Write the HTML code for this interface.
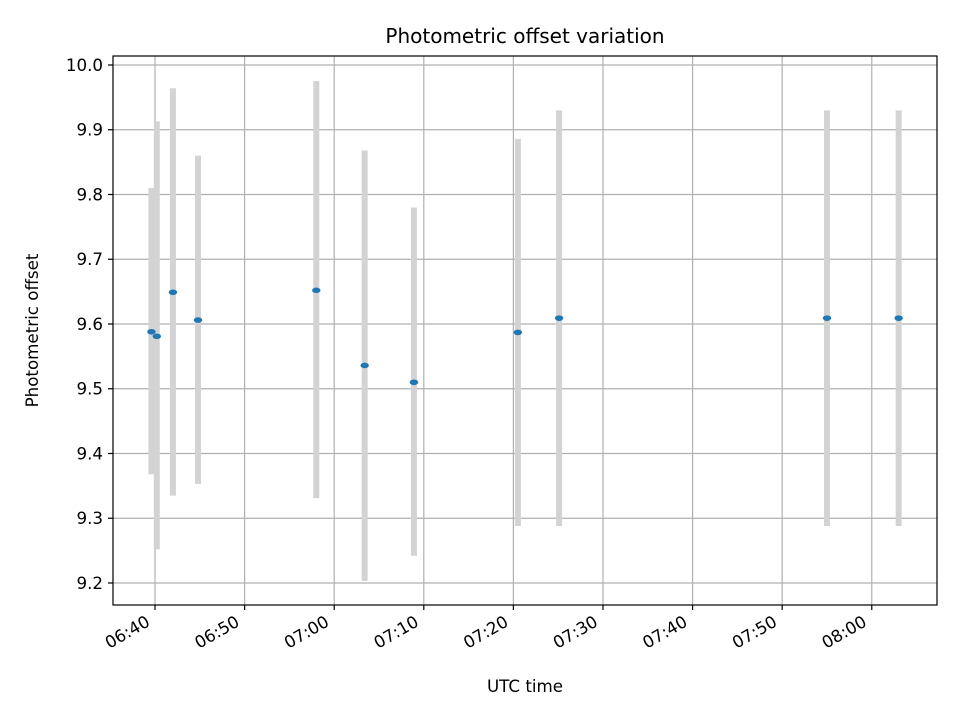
<!DOCTYPE html>
<html><head><meta charset="utf-8"><style>
body{margin:0;background:#fff;}
svg text{font-family:"DejaVu Sans","Liberation Sans",sans-serif;fill:#000;}
</style></head><body>
<svg id="chart" width="960" height="720" xmlns="http://www.w3.org/2000/svg"></svg>
<script>
const times = ["06:39:36","06:40:12","06:42:00","06:44:48","06:58:00","07:03:24","07:08:54","07:20:30","07:25:06","07:55:00","08:03:00"];
const offsets = [9.588,9.581,9.649,9.606,9.652,9.536,9.510,9.587,9.609,9.609,9.609];
const errLow = [9.368,9.252,9.335,9.353,9.331,9.203,9.242,9.288,9.288,9.288,9.288];
const errHigh = [9.810,9.913,9.964,9.860,9.975,9.868,9.780,9.886,9.930,9.930,9.930];
const yTicks = [9.2,9.3,9.4,9.5,9.6,9.7,9.8,9.9,10.0];
const xTickLabels = ["06:40","06:50","07:00","07:10","07:20","07:30","07:40","07:50","08:00"];

const L=113,R=937,T=56,B=605;
const xMin=-4.69,xMax=87.28;
const yMin=9.166,yMax=10.0139;
function toMin(s){const p=s.split(':').map(Number);return (p[0]*60+p[1]+(p[2]||0)/60)-(6*60+40);}
const X=m=>L+(m-xMin)/(xMax-xMin)*(R-L);
const Y=v=>B-(v-yMin)/(yMax-yMin)*(B-T);
const svg=document.getElementById('chart');
const NS='http://www.w3.org/2000/svg';
function mk(tag,attrs,parent){const e=document.createElementNS(NS,tag);for(const k in attrs)e.setAttribute(k,attrs[k]);(parent||svg).appendChild(e);return e;}

const grid=mk('g',{});


yTicks.forEach(v=>{mk('line',{x1:L,x2:R,y1:Y(v),y2:Y(v),stroke:'#b0b0b0','stroke-width':1.2},grid);});
xTickLabels.forEach(t=>{const x=X(toMin(t));mk('line',{x1:x,x2:x,y1:T,y2:B,stroke:'#b0b0b0','stroke-width':1.2},grid);});

times.forEach((t,i)=>{const x=X(toMin(t));
 const e=mk('line',{x1:x,x2:x,y1:Y(errLow[i]),y2:Y(errHigh[i]),stroke:'#d3d3d3','stroke-width':6});
 
 
});
times.forEach((t,i)=>{
 const p=mk('ellipse',{cx:X(toMin(t)),cy:Y(offsets[i]),rx:4.2,ry:2.8,fill:'#1f77b4'});
 
 
});

const fr=mk('rect',{x:L,y:T,width:R-L,height:B-T,fill:'none',stroke:'#000','stroke-width':1.2});



yTicks.forEach(v=>{const y=Y(v);
 mk('line',{x1:L-5,x2:L,y1:y,y2:y,stroke:'#000','stroke-width':1.2});
 const tx=mk('text',{x:L-10,y:y+6,'text-anchor':'end','font-size':16.7});
 tx.textContent=v.toFixed(1);
 
 
});
xTickLabels.forEach(t=>{const x=X(toMin(t));
 mk('line',{x1:x,x2:x,y1:B,y2:B+5,stroke:'#000','stroke-width':1.2});
 const ax=x-4, ay=B+20;
 const tx=mk('text',{x:ax,y:ay,'text-anchor':'end','font-size':16.7,transform:`rotate(-30 ${ax} ${ay})`});
 tx.textContent=t;
 
 
});

const title=mk('text',{x:(L+R)/2,y:43,'text-anchor':'middle','font-size':20});
title.textContent='Photometric offset variation';


const xl=mk('text',{x:(L+R)/2,y:692,'text-anchor':'middle','font-size':16.7});
xl.textContent='UTC time';


const yl=mk('text',{x:38,y:(T+B)/2,'text-anchor':'middle','font-size':16.7,transform:`rotate(-90 38 ${(T+B)/2})`});
yl.textContent='Photometric offset';


</script>
</body></html>
